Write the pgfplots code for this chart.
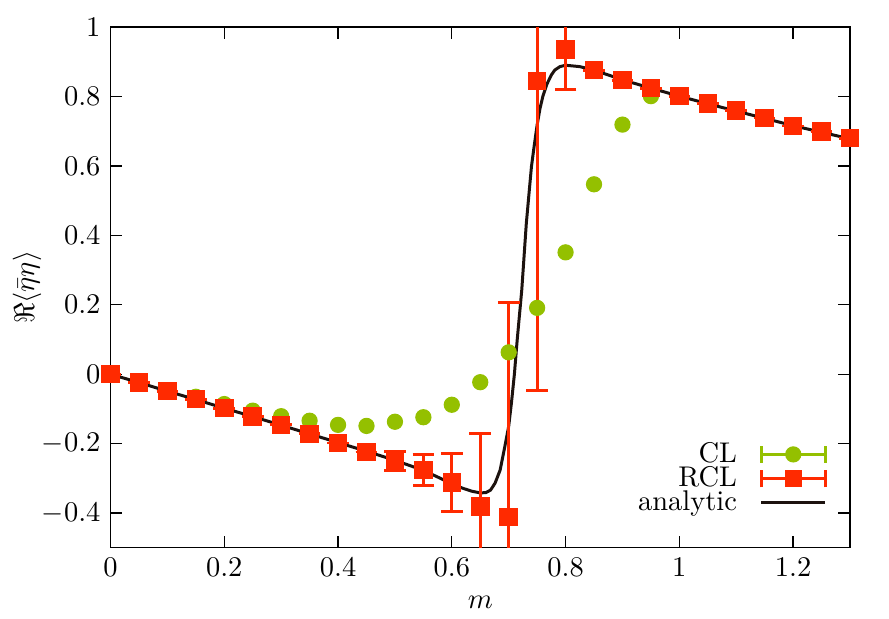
\documentclass[border=0pt]{standalone}
\usepackage{pgfplots}
\pgfplotsset{compat=1.18}
\definecolor{clgreen}{RGB}{148,192,0}
\definecolor{rclred}{RGB}{255,42,0}
\definecolor{anblack}{RGB}{28,18,14}
\pgfplotstableread{
m y
0.00 0.000
0.05 -0.022
0.10 -0.048
0.15 -0.065
0.20 -0.086
0.25 -0.105
0.30 -0.121
0.35 -0.134
0.40 -0.146
0.45 -0.149
0.50 -0.137
0.55 -0.124
0.60 -0.088
0.65 -0.023
0.70 0.063
0.75 0.191
0.80 0.351
0.85 0.547
0.90 0.719
0.95 0.801
1.00 0.800
1.05 0.779
1.10 0.758
1.15 0.737
1.20 0.716
1.25 0.697
1.30 0.678
}\cltable
\pgfplotstableread{
m y e
0.00 0.000 0
0.05 -0.024 0
0.10 -0.049 0
0.15 -0.072 0
0.20 -0.098 0
0.25 -0.122 0
0.30 -0.146 0
0.35 -0.172 0
0.40 -0.198 0
0.45 -0.224 0
0.50 -0.250 0.027
0.55 -0.276 0.044
0.60 -0.312 0.083
0.65 -0.381 0.209
0.70 -0.412 0.619
0.75 0.845 0.893
0.80 0.936 0.117
0.85 0.876 0
0.90 0.847 0
0.95 0.824 0
1.00 0.801 0
1.05 0.780 0
1.10 0.759 0
1.15 0.738 0
1.20 0.715 0
1.25 0.699 0
1.30 0.680 0
}\rcltable
\pgfplotstableread{
m y
0.00 0.000
0.05 -0.024
0.10 -0.049
0.15 -0.073
0.20 -0.098
0.25 -0.122
0.30 -0.147
0.35 -0.172
0.40 -0.197
0.45 -0.222
0.50 -0.248
0.55 -0.277
0.58 -0.300
0.60 -0.316
0.62 -0.329
0.635 -0.337
0.65 -0.342
0.66 -0.341
0.668 -0.334
0.676 -0.314
0.685 -0.276
0.693 -0.210
0.700 -0.150
0.705 -0.080
0.710 0.000
0.715 0.100
0.723 0.243
0.731 0.435
0.740 0.598
0.745 0.660
0.750 0.718
0.755 0.765
0.760 0.800
0.767 0.835
0.775 0.862
0.781 0.876
0.790 0.886
0.800 0.890
0.825 0.886
0.850 0.876
0.900 0.848
0.950 0.824
1.000 0.801
1.050 0.779
1.100 0.758
1.150 0.737
1.200 0.716
1.250 0.697
1.300 0.678
}\antable
\begin{document}
\begin{tikzpicture}
\begin{axis}[
  scale only axis, width=259.6pt, height=182.8pt,
  xmin=0, xmax=1.3, ymin=-0.5, ymax=1,
  xtick={0,0.2,0.4,0.6,0.8,1,1.2},
  ytick={-0.4,-0.2,0,0.2,0.4,0.6,0.8,1},
  yticklabels={$-0.4$,$-0.2$,$0$,$0.2$,$0.4$,$0.6$,$0.8$,$1$},
  xticklabels={$0$,$0.2$,$0.4$,$0.6$,$0.8$,$1$,$1.2$},
  xlabel={$m$}, ylabel={$\Re\langle\bar\eta\eta\rangle$},
  every axis x label/.style={at={(axis description cs:0.5,-0.105)}, anchor=center},
  every axis y label/.style={at={(axis description cs:-0.113,0.5)}, rotate=90, anchor=center},
  tick align=inside, major tick length=4.2pt,
  tick style={black, line width=0.45pt},
  axis line style={line width=0.5pt},
  legend plot pos=right, legend cell align=right,
  legend style={draw=none, fill=none, at={(axis description cs:0.981,0.04)}, anchor=south east,
    row sep=-4pt, column sep=6pt, font=\normalsize},
]
\addplot[anblack, line width=1.05pt, forget plot] table[x=m,y=y] {\antable};
\addplot[only marks, mark=*, mark size=2.65pt, color=clgreen, forget plot] table[x=m,y=y] {\cltable};
\addplot[only marks, mark=square*, mark size=2.75pt, color=rclred, line width=1pt, forget plot,
  error bars/.cd, y dir=both, y explicit,
  error mark options={rotate=90, mark size=3.8pt, line width=1pt, rclred},
  error bar style={line width=1pt, rclred}]
  table[x=m,y=y,y error=e] {\rcltable};
\addlegendimage{legend image code/.code={
  \draw[clgreen, line width=1pt] (0pt,0pt) -- (22.5pt,0pt);
  \draw[clgreen, line width=1pt] (0pt,-3pt) -- (0pt,3pt);
  \draw[clgreen, line width=1pt] (22.5pt,-3pt) -- (22.5pt,3pt);
  \fill[clgreen] (11.25pt,0pt) circle (2.65pt);}}
\addlegendentry{CL}
\addlegendimage{legend image code/.code={
  \draw[rclred, line width=1pt] (0pt,0pt) -- (22.5pt,0pt);
  \draw[rclred, line width=1pt] (0pt,-3pt) -- (0pt,3pt);
  \draw[rclred, line width=1pt] (22.5pt,-3pt) -- (22.5pt,3pt);
  \fill[rclred] (8.5pt,-2.75pt) rectangle (14pt,2.75pt);}}
\addlegendentry{RCL}
\addlegendimage{legend image code/.code={
  \draw[anblack, line width=1.05pt] (0pt,0pt) -- (22.5pt,0pt);}}
\addlegendentry{analytic}
\coordinate (bl) at (rel axis cs:0,0);
\coordinate (tr) at (rel axis cs:1,1);
\end{axis}
\pgfresetboundingbox
\path[use as bounding box] ([shift={(-38.8pt,-24.9pt)}]bl) rectangle ([shift={(13.7pt,9.5pt)}]tr);
\end{tikzpicture}
\end{document}
